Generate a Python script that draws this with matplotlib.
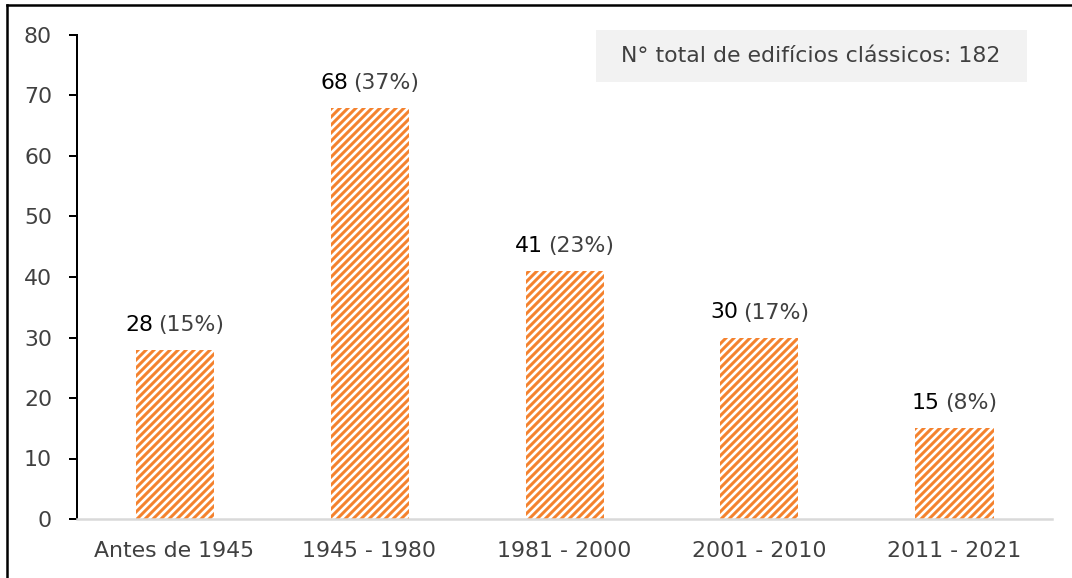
import matplotlib
matplotlib.use("Agg")
import matplotlib.pyplot as plt
from matplotlib.offsetbox import TextArea, HPacker, AnnotationBbox
from matplotlib.lines import Line2D
from matplotlib.patches import Rectangle

categories = ["Antes de 1945", "1945 - 1980", "1981 - 2000", "2001 - 2010", "2011 - 2021"]
values = [28, 68, 41, 30, 15]
percent_labels = ["(15%)", "(37%)", "(23%)", "(17%)", "(8%)"]
total_label = "N° total de edifícios clássicos: 182"
yticks = [0, 10, 20, 30, 40, 50, 60, 70, 80]

ORANGE = "#F4822E"
GRAY = "#404040"
FONT = ["DejaVu Sans"]
FS = 13.2

plt.rcParams["font.family"] = FONT
plt.rcParams["hatch.linewidth"] = 1.8

DPI = 120
fig = plt.figure(figsize=(1072 / DPI, 578 / DPI), dpi=DPI)
ax = fig.add_axes([77 / 1072, (578 - 519) / 578, (1052 - 77) / 1072, (519 - 35) / 578])

x = list(range(len(categories)))
ax.bar(x, values, width=0.4, facecolor="white", edgecolor=ORANGE, hatch="/////", linewidth=0)

ax.set_xlim(-0.5, len(categories) - 0.5)
ax.set_ylim(0, 80)
ax.set_yticks(yticks)
ax.set_xticks(x)
ax.set_xticklabels(categories)

for s in ["top", "right"]:
    ax.spines[s].set_visible(False)
ax.spines["left"].set_color("black")
ax.spines["left"].set_linewidth(1.2)
ax.spines["bottom"].set_color("#D9D9D9")
ax.spines["bottom"].set_linewidth(1.5)
ax.tick_params(axis="y", direction="out", length=5, width=1.2, color="black",
               labelsize=FS, labelcolor=GRAY, pad=10)
ax.tick_params(axis="x", length=0, labelsize=FS, labelcolor=GRAY, pad=13)

for xi, v, p in zip(x, values, percent_labels):
    t1 = TextArea(str(v), textprops=dict(color="black", fontsize=FS, family=FONT))
    t2 = TextArea(p, textprops=dict(color=GRAY, fontsize=FS, family=FONT))
    box = HPacker(children=[t1, t2], align="baseline", pad=0, sep=3)
    ab = AnnotationBbox(box, (xi, v), xybox=(0, 9), xycoords="data",
                        boxcoords="offset points", box_alignment=(0.5, 0),
                        frameon=False)
    ax.add_artist(ab)

ax.add_patch(Rectangle((0.532, 0.903), 0.442, 0.107, transform=ax.transAxes,
                       facecolor="#F2F2F2", edgecolor="none", clip_on=False, zorder=1))
ax.text(0.753, 0.9565, total_label, transform=ax.transAxes, ha="center", va="center",
        fontsize=FS, color=GRAY, zorder=2)

# figure border (top and left)
fig.add_artist(Line2D([7 / 1072, 7 / 1072], [0, 1 - 5 / 578], transform=fig.transFigure,
                      color="black", linewidth=1.5))
fig.add_artist(Line2D([7 / 1072, 1], [1 - 5 / 578, 1 - 5 / 578], transform=fig.transFigure,
                      color="black", linewidth=1.5))

fig.savefig("out.png", dpi=DPI)
